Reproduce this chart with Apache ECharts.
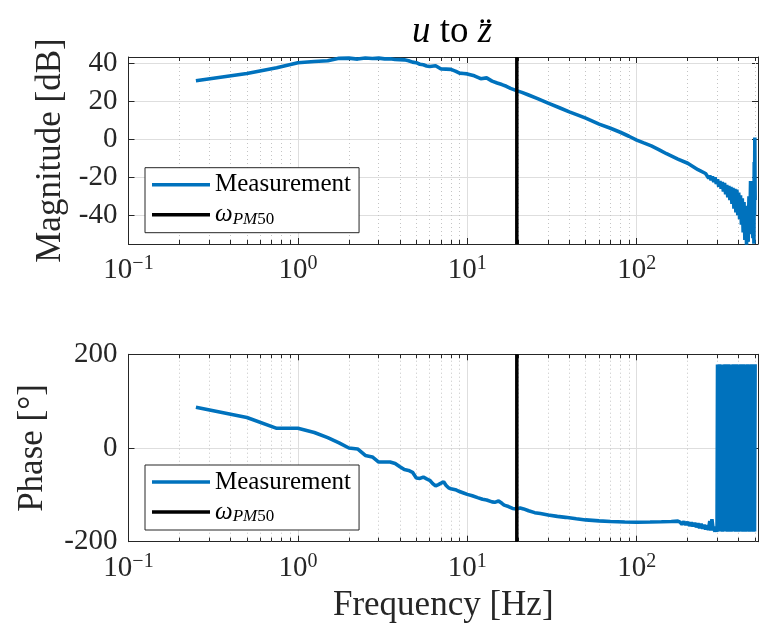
<!DOCTYPE html>
<html><head><meta charset="utf-8">
<script src="https://cdn.jsdelivr.net/npm/echarts@6/dist/echarts.min.js"></script>
<style>html,body{margin:0;padding:0;background:#fff}#c{width:761px;height:631px}</style>
</head><body><div id="c"></div>
<script>
// ---------- data ----------
const magFreq = [
  0.25, 0.5, 0.75, 1, 1.25, 1.5, 1.75, 2, 2.25, 2.5,
  2.75, 3, 3.25, 3.5, 3.75, 4, 4.25, 4.5, 4.75, 5,
  5.25, 5.5, 5.75, 6, 6.5, 7, 7.5, 8, 8.5, 9,
  9.5, 10, 11, 12, 13, 14, 15, 16, 17, 18,
  19.5, 21, 23, 26, 30, 35, 40, 45, 50, 60,
  70, 80, 90, 100, 110, 122, 135, 150, 175, 200,
  230, 255, 262, 266, 270, 275, 280, 285, 290, 295,
  300, 305, 310, 315, 320, 325, 330, 335, 340, 345,
  350, 355, 360, 365, 370, 375, 380, 385, 390, 395,
  400, 405, 410, 415, 420, 425, 430, 435, 440, 445,
  450, 455, 460, 465, 470, 475, 480, 485, 489, 492,
  494, 496, 498, 499, 500
];
const magDb = [
  30.8, 34.6, 37.6, 40.3, 40.9, 41.3, 42.6, 42.7, 42.2, 42.8,
  42.5, 42.7, 42.3, 42.4, 42.0, 41.9, 41.8, 41.3, 40.6, 40.3,
  39.5, 39.2, 38.6, 38.3, 38.7, 37.0, 36.9, 36.8, 35.9, 34.8,
  34.6, 34.4, 33.4, 31.9, 32.3, 30.6, 29.6, 28.8, 27.9, 26.8,
  25.6, 24.7, 23.3, 21.4, 19.0, 16.6, 14.4, 12.7, 11.1, 8.0,
  5.8, 3.7, 1.6, -0.4, -1.9, -3.5, -5.4, -7.6, -10.4, -12.6,
  -16.0, -18.0, -18.5, -20.5, -19.0, -21.5, -19.5, -22.5, -20.0, -23.5,
  -21.0, -25.0, -22.0, -26.0, -22.5, -27.5, -23.0, -29.0, -24.0, -30.5,
  -24.5, -32.0, -25.0, -34.0, -25.5, -36.5, -26.0, -38.5, -26.5, -40.0,
  -28.0, -42.0, -29.5, -45.0, -31.0, -49.0, -33.0, -53.0, -35.0, -55.5,
  -37.0, -54.0, -30.0, -50.0, -22.0, -47.0, -28.0, -52.0, -25.0, -55.0,
  -12.0, -40.0, 1.0, -20.0, -32.0
];
const phaseFreq = [
  0.25, 0.5, 0.75, 1, 1.25, 1.5, 1.75, 2, 2.25, 2.5,
  2.75, 3, 3.25, 3.5, 3.75, 4, 4.25, 4.5, 4.75, 5,
  5.25, 5.5, 5.75, 6, 6.25, 6.5, 6.75, 7, 7.25, 7.5,
  7.75, 8, 8.5, 9, 9.5, 10, 10.7, 11.5, 12.3, 13,
  14, 14.5, 15.3, 16, 16.5, 17.5, 18.5, 19.5, 20.5, 21.5,
  23, 25, 27, 30, 34, 38, 44, 50, 60, 70,
  85, 100, 120, 140, 160, 175, 180, 185, 190, 195,
  200, 205, 210, 215, 220, 225, 230, 235, 240, 245,
  250, 255, 260, 265, 270, 274, 278, 282, 286, 290,
  294, 298,
  300, 304, 308, 312, 316, 320, 324, 328, 332, 336,
  340, 344, 348, 352, 356, 360, 364, 368, 372, 376,
  380, 384, 388, 392, 396, 400, 404, 408, 412, 416,
  420, 424, 428, 432, 436, 440, 444, 448, 452, 456,
  460, 464, 468, 472, 476, 480, 484, 488, 492, 496,
  500
];
const phaseDeg = [
  87, 65, 42, 42, 33, 22, 11, 0, -2, -16,
  -19, -30, -30, -30, -33, -40, -46, -48, -52, -64,
  -65, -62, -66, -69, -76, -81, -78, -75, -72, -80,
  -85, -87, -89, -93, -96, -99, -102, -106, -109.5, -111,
  -115, -116, -113, -118, -122, -125, -129, -130, -128, -130,
  -134, -138, -140, -143, -146, -148, -151, -153.5, -155.5, -157,
  -158, -158.5, -158, -157.5, -157, -156, -158, -163, -157, -164,
  -158, -166, -159, -167, -160, -169, -161, -171, -162, -172,
  -164, -174, -165, -175, -156, -176, -152, -170, -166, -178,
  -168, -179,
  178, -178, 179, -177, 178, -179, 177, -178, 179, -178,
  178, -179, 179, -178, 177, -179, 178, -178, 179, -177,
  178, -179, 179, -178, 178, -179, 177, -178, 179, -178,
  178, -179, 179, -177, 178, -179, 178, -178, 179, -178,
  177, -179, 178, -178, 179, -177, 178, -179, 178, -178,
  179
];
const pm50Freq = 19.6;
const seriesNames = ['Measurement', 'ωPM50'];
const titleText = '{i|u} to {i|z\u0308}';
const magLabel = 'Magnitude [dB]';
const phaseLabel = 'Phase [°]';
const freqLabel = 'Frequency [Hz]';

// ---------- axis ranges ----------
const xMin = 0.1, xMax = 520;
const magMin = -55.1, magMax = 43.3;
const phMin = -200, phMax = 200;

// ---------- styling ----------
const FONT = "'Liberation Serif', 'Times New Roman', serif";
const AX = '#262626';
const BLUE = '#0072BD';

function fmtX(v) {
  const l = Math.log10(v), e = Math.round(l);
  if (Math.abs(l - e) > 1e-6) return '';
  return '{b|10}{e|' + String(e).replace('-', '\u2212') + '}';
}
const xRich = {
  b: { fontFamily: FONT, fontSize: 29, color: AX, lineHeight: 33 },
  e: { fontFamily: FONT, fontSize: 20, color: AX, lineHeight: 20, verticalAlign: 'top' }
};
function fmtY(step) {
  return function (v) {
    const r = Math.round(v / step) * step;
    return Math.abs(r - v) < 1e-6 ? String(r) : '';
  };
}

function xAx(grid, pos, name) {
  const bottom = pos === 'bottom';
  return {
    type: 'log', logBase: 10, gridIndex: grid, position: pos, min: xMin, max: xMax,
    axisLine: { show: true, onZero: false, lineStyle: { color: AX, width: 1 } },
    axisTick: { show: true, inside: true, length: 6, lineStyle: { color: AX } },
    axisLabel: { show: bottom, margin: 10, formatter: fmtX, rich: xRich },
    splitLine: { show: bottom, lineStyle: { color: '#dedede', width: 1 } },
    name: name || '', nameLocation: 'middle', nameGap: 47,
    nameTextStyle: { fontFamily: FONT, fontSize: 35, color: AX }
  };
}
function yAx(grid, pos, min, max, step, name, nameGap) {
  const left = pos === 'left';
  return {
    type: 'value', gridIndex: grid, position: pos, min: min, max: max,
    minInterval: step, maxInterval: step,
    axisLine: { show: true, onZero: false, lineStyle: { color: AX, width: 1 } },
    axisTick: { show: true, inside: true, length: 6, lineStyle: { color: AX } },
    axisLabel: { show: left, margin: 11, formatter: fmtY(step), fontFamily: FONT, fontSize: 29, color: AX },
    splitLine: { show: left, lineStyle: { color: '#dedede', width: 1 } },
    name: name || '', nameLocation: 'middle', nameGap: nameGap || 0, nameRotate: 90,
    nameTextStyle: { fontFamily: FONT, fontSize: 35, color: AX }
  };
}

function minorMarks(yMin, yMax, tickLen) {
  const d = [];
  const dot = { type: [1, 3], color: '#c4c4c4', width: 1 };
  const tk = { type: 'solid', color: AX, width: 1 };
  for (let k = -1; k <= 2; k++) {
    for (let m = 2; m <= 9; m++) {
      const f = m * Math.pow(10, k);
      if (f > xMax) continue;
      d.push({ xAxis: f, lineStyle: dot });
      d.push([{ coord: [f, yMax], lineStyle: tk }, { coord: [f, yMax - tickLen], lineStyle: tk }]);
      d.push([{ coord: [f, yMin], lineStyle: tk }, { coord: [f, yMin + tickLen], lineStyle: tk }]);
    }
  }
  return { silent: true, symbol: ['none', 'none'], label: { show: false }, animation: false, z: 1, data: d };
}

const magData = magFreq.map((f, i) => [f, magDb[i]]);
const phData = phaseFreq.map((f, i) => [f, phaseDeg[i]]);

function legendAt(top) {
  return {
    data: seriesNames, orient: 'vertical', left: 145, top: top,
    icon: 'rect', itemWidth: 58, itemHeight: 3.5, itemGap: 4,
    padding: [4, 8, 5, 7], borderColor: AX, borderWidth: 1, borderRadius: 0,
    backgroundColor: '#fff', selectedMode: false, z: 10,
    formatter: n => n === seriesNames[1] ? '{w|ω}{s|PM}{n|50}' : n,
    textStyle: {
      fontFamily: FONT, fontSize: 25, color: '#000', lineHeight: 26,
      rich: {
        w: { fontFamily: FONT, fontSize: 25, fontStyle: 'italic', color: '#000', lineHeight: 26 },
        s: { fontFamily: FONT, fontSize: 17, fontStyle: 'italic', color: '#000', lineHeight: 15, verticalAlign: 'bottom' },
        n: { fontFamily: FONT, fontSize: 17, color: '#000', lineHeight: 15, verticalAlign: 'bottom' }
      }
    }
  };
}

const option = {
  animation: false,
  backgroundColor: '#fff',
  title: {
    text: titleText, left: 447, top: 9, textAlign: 'center',
    textStyle: {
      fontFamily: FONT, fontSize: 37, fontWeight: 'normal', color: '#000',
      rich: { i: { fontFamily: FONT, fontSize: 37, fontStyle: 'italic', color: '#000' } }
    }
  },
  legend: [legendAt(167.7), legendAt(465)],
  grid: [
    { left: 128.5, top: 57, width: 631.5, height: 187, containLabel: false },
    { left: 128.5, top: 354.3, width: 631.5, height: 187.4, containLabel: false }
  ],
  xAxis: [xAx(0, 'bottom'), xAx(0, 'top'), xAx(1, 'bottom', freqLabel), xAx(1, 'top')],
  yAxis: [
    yAx(0, 'left', magMin, magMax, 20, magLabel, 60),
    yAx(0, 'right', magMin, magMax, 20),
    yAx(1, 'left', phMin, phMax, 200, phaseLabel, 78),
    yAx(1, 'right', phMin, phMax, 200)
  ],
  series: [
    {
      type: 'line', name: seriesNames[0], xAxisIndex: 0, yAxisIndex: 0, data: magData,
      symbol: 'none', lineStyle: { color: BLUE, width: 3.6 }, itemStyle: { color: BLUE }, z: 3,
      markLine: minorMarks(magMin, magMax, 2.1)
    },
    {
      type: 'line', name: seriesNames[1], xAxisIndex: 0, yAxisIndex: 0,
      data: [[pm50Freq, magMin], [pm50Freq, magMax]],
      symbol: 'none', lineStyle: { color: '#000', width: 3.5 }, itemStyle: { color: '#000' }, z: 4
    },
    {
      type: 'line', name: seriesNames[0], xAxisIndex: 2, yAxisIndex: 2, data: phData,
      symbol: 'none', lineStyle: { color: BLUE, width: 3.6 }, itemStyle: { color: BLUE }, z: 3,
      markLine: minorMarks(phMin, phMax, 8.5)
    },
    {
      type: 'line', name: seriesNames[1], xAxisIndex: 2, yAxisIndex: 2,
      data: [[pm50Freq, phMin], [pm50Freq, phMax]],
      symbol: 'none', lineStyle: { color: '#000', width: 3.5 }, itemStyle: { color: '#000' }, z: 4
    }
  ]
};
const chart = echarts.init(document.getElementById('c'), null, { renderer: 'canvas' });
chart.setOption(option);
</script>
</body></html>
